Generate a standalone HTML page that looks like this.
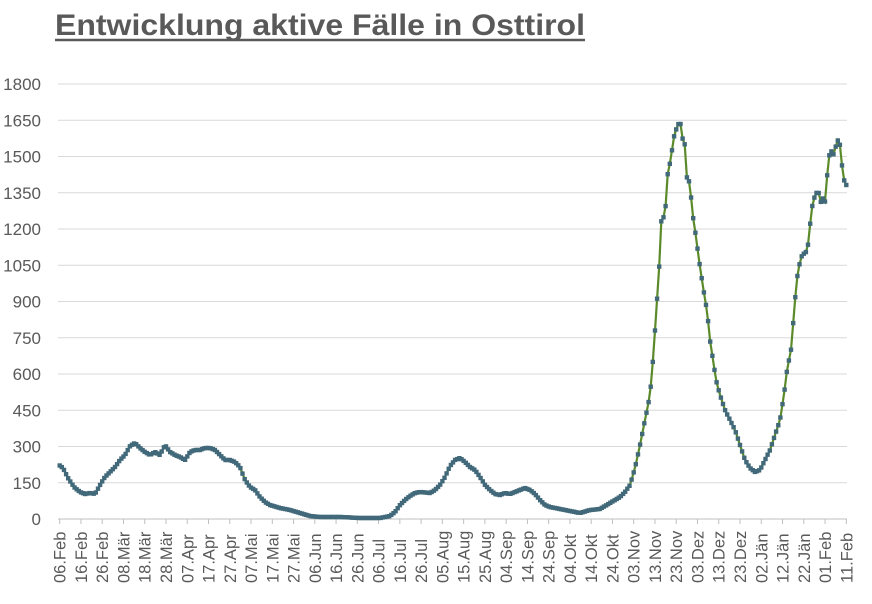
<!DOCTYPE html>
<html><head><meta charset="utf-8"><style>
body{margin:0;background:#fff;}
svg text{font-family:"Liberation Sans",sans-serif;fill:#595959;}
</style></head><body>
<svg id="s" width="872" height="599" xmlns="http://www.w3.org/2000/svg">
<text x="55" y="35" font-size="30" font-weight="bold" textLength="530" lengthAdjust="spacingAndGlyphs">Entwicklung aktive Fälle in Osttirol</text>
<line x1="55" y1="40" x2="585" y2="40" stroke="#595959" stroke-width="2.5"/>
<g id="g"></g>
</svg>
<script>
var g=document.getElementById('g'),h='';
for(var i=0;i<=12;i++){var v=i*150,y=519-v*435/1800;
h+='<line x1="58" x2="847" y1="'+y+'" y2="'+y+'" stroke="'+(i?'#d9d9d9':'#bfbfbf')+'" stroke-width="1"/>';
h+='<text x="41" y="'+(y+6)+'" font-size="17" text-anchor="end">'+v+'</text>';}
var L="06.Feb 16.Feb 26.Feb 08.Mär 18.Mär 28.Mär 07.Apr 17.Apr 27.Apr 07.Mai 17.Mai 27.Mai 06.Jun 16.Jun 26.Jun 06.Jul 16.Jul 26.Jul 05.Aug 15.Aug 25.Aug 04.Sep 14.Sep 24.Sep 04.Okt 14.Okt 24.Okt 03.Nov 13.Nov 23.Nov 03.Dez 13.Dez 23.Dez 02.Jän 12.Jän 22.Jän 01.Feb 11.Feb".split(' ');
for(var i=0;i<L.length;i++){var x=59.7+i*(846.3-59.7)/37;
h+='<line x1="'+x+'" x2="'+x+'" y1="519" y2="524" stroke="#bfbfbf"/>';
h+='<text transform="translate('+(x+6)+',583) rotate(-90)" font-size="16.5">'+L[i]+'</text>';}
var P=[59,465,63,468,68,478,74,487,80,492,85,494,90,493,95,494,100,485,105,477,110,472,115,467,120,460,125,455,130,446,135,443,140,448,145,452,150,455,155,452,160,455,165,445,170,452,175,455,180,457,185,460,190,452,195,450,200,450,205,448,210,448,215,450,220,455,225,460,230,460,235,462,240,467,245,480,250,487,255,490,260,497,265,502,270,505,280,508,290,510,300,513,310,516,320,517,340,517,360,518,380,518,390,516,395,512,400,505,405,500,410,496,415,493,420,492,430,493,435,490,440,485,445,477,450,466,455,460,460,458,465,462,470,467,475,470,480,477,485,485,490,490,495,494,500,495,505,493,510,494,515,492,520,490,525,488,530,490,535,494,540,500,545,505,550,507,560,509,570,511,580,513,590,510,600,509,605,506,610,503,615,500,620,497,625,492,630,485,635,468,640,445,645,420,650,395,653,360,655,330,657,300,659,272,661,222,663,218,665,215,668,170,671,160,673,140,676,130,678,125,680,120,682,137,685,145,687,180,690,182,692,210,695,230,697,245,699,260,702,280,705,300,707,310,710,340,713,360,716,380,720,395,725,410,730,420,735,430,740,445,745,460,750,468,755,472,760,470,765,460,770,450,775,435,780,420,784,395,787,370,791,350,795,300,798,270,802,255,806,252,808,245,810,225,813,200,816,195,818,187,820,205,822,197,825,202,828,165,830,150,832,152,834,155,836,145,838,140,840,145,842,165,844,180,846,185];
function yAt(x){for(var k=0;k<P.length-2;k+=2){if(x<=P[k+2]){var t=(x-P[k])/(P[k+2]-P[k]);return P[k+1]+t*(P[k+3]-P[k+1]);}}return P[P.length-1];}
var pts=[],m='';
for(var x=59.7;x<=846.5;x+=786.6/370){var y=yAt(x);pts.push(x.toFixed(1)+','+y.toFixed(1));m+='<rect x="'+(x-2.2).toFixed(1)+'" y="'+(y-2.2).toFixed(1)+'" width="4.4" height="4.4" fill="#41697a"/>';}
h+='<polyline points="'+pts.join(' ')+'" fill="none" stroke="#5b8a2a" stroke-width="2.2"/>'+m;
g.innerHTML=h;
</script>
</body></html>
